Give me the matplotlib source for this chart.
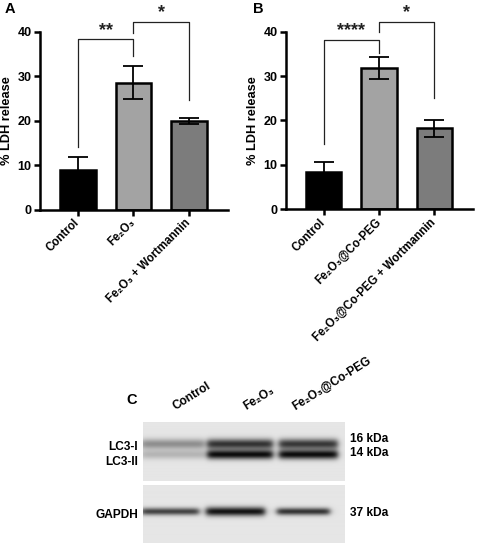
import numpy as np
import matplotlib
matplotlib.use('Agg')
import matplotlib.pyplot as plt

plt.rcParams['font.family'] = ['Liberation Sans', 'DejaVu Sans']
plt.rcParams['font.weight'] = 'bold'

# ---------------- data ----------------
cats_a = ['Control', 'Fe\u2082O\u2083', 'Fe\u2082O\u2083 + Wortmannin']
vals_a = [9.0, 28.6, 20.0]
err_a = [3.0, 3.6, 0.6]

cats_b = ['Control', 'Fe\u2082O\u2083@Co-PEG', 'Fe\u2082O\u2083@Co-PEG + Wortmannin']
vals_b = [8.3, 31.8, 18.2]
err_b = [2.4, 2.4, 2.0]

# brackets: (i, j, left end, top, right end, label)
sig_a = [(0, 1, 14.2, 38.3, 34.5, '**'), (1, 2, 39.8, 42.2, 24.7, '*')]
sig_b = [(0, 1, 14.6, 38.2, 35.3, '****'), (1, 2, 40.0, 42.2, 25.1, '*')]

yticks = [0, 10, 20, 30, 40]
ylabel = '% LDH release'

# western blot (panel C)
lanes_c = ['Control', 'Fe\u2082O\u2083', 'Fe\u2082O\u2083@Co-PEG']
lc3i = [0.40, 0.82, 0.80]
lc3ii = [0.22, 1.00, 1.00]
gapdh = [0.75, 0.97, 0.82]
markers_top = ['16 kDa', '14 kDa']
markers_bot = ['37 kDa']
rows_top = ['LC3-I', 'LC3-II']
rows_bot = ['GAPDH']

bar_colors = ['#000000', '#a3a3a3', '#7c7c7c']

W, H = 479, 550
fig = plt.figure(figsize=(W / 100, H / 100), dpi=100)


def px_axes(l, t, r, b):
    return fig.add_axes([l / W, 1 - b / H, (r - l) / W, (b - t) / H])


def bar_panel(ax, cats, vals, errs, sigs):
    x = np.arange(len(cats))
    ax.bar(x, vals, width=0.64, color=bar_colors, edgecolor='black', linewidth=1.8, zorder=2)
    ax.errorbar(x, vals, yerr=errs, fmt='none', ecolor='black', elinewidth=1.3,
                capsize=7, capthick=1.3, zorder=3)
    ax.set_xlim(-0.68, 2.7)
    ax.set_ylim(0, 40)
    ax.set_yticks(yticks)
    ax.set_xticks(x)
    ax.set_xticklabels(cats, rotation=45, ha='right', va='center', rotation_mode='anchor',
                       fontsize=8.3, fontweight='bold')
    for lab in ax.get_yticklabels():
        lab.set_fontsize(9)
        lab.set_fontweight('bold')
    ax.tick_params(axis='both', direction='out', length=4, width=1.8, pad=2)
    ax.tick_params(axis='x', pad=4)
    for s in ['top', 'right']:
        ax.spines[s].set_visible(False)
    for s in ['left', 'bottom']:
        ax.spines[s].set_linewidth(1.8)
    ax.set_ylabel(ylabel, fontsize=9.2, fontweight='bold', labelpad=3)
    for i, j, yl, yt, yr, lab in sigs:
        ax.plot([i, i, j, j], [yl, yt, yt, yr], color='#222222', lw=0.9, clip_on=False, zorder=4)
        ax.text((i + j) / 2, yt + 0.1, lab, ha='center', va='bottom', fontsize=13,
                fontweight='bold', color='#222222', clip_on=False)


axA = px_axes(40, 31.7, 228, 210)
bar_panel(axA, cats_a, vals_a, err_a, sig_a)
axB = px_axes(286, 31.7, 473, 209.3)
bar_panel(axB, cats_b, vals_b, err_b, sig_b)

fig.text(5 / W, 1 - 9 / H, 'A', fontsize=10.5, fontweight='bold', va='center', ha='left')
fig.text(253 / W, 1 - 9 / H, 'B', fontsize=10.5, fontweight='bold', va='center', ha='left')

# ---------------- panel C ----------------
axC = fig.add_axes([0, 0, 1, 1], zorder=-1)
axC.axis('off')

bg = 0.90
dark = 0.05


def lane_profile(xs, x0, x1, soft=3.5):
    return 0.5 * (np.tanh((xs - x0) / soft) - np.tanh((xs - x1) / soft))


def blot(xl, xr, yt, yb, bands):
    xs = np.linspace(xl, xr, int(xr - xl) * 2)
    ys = np.linspace(yt, yb, int(yb - yt) * 2)
    X, Y = np.meshgrid(xs, ys)
    d = np.zeros_like(X)
    for (x0, x1, yc, sig, inten) in bands:
        d += inten * lane_profile(X, x0, x1) * np.exp(-0.5 * ((Y - yc) / sig) ** 2)
    d = np.clip(d, 0, 1)
    img = bg - d * (bg - dark)
    axC.imshow(img, cmap='gray', vmin=0, vmax=1, extent=(xl, xr, yb, yt),
               aspect='auto', interpolation='bilinear', origin='upper')


top_lanes = [(141, 204), (207, 273), (279, 338)]
bot_lanes = [(141, 199), (206, 265), (277, 330)]
bands_top = []
for k, (x0, x1) in enumerate(top_lanes):
    bands_top.append((x0, x1, 444.0, 3.6, lc3i[k]))
    bands_top.append((x0, x1, 454.5, 3.3, lc3ii[k]))
bands_bot = []
for k, (x0, x1) in enumerate(bot_lanes):
    bands_bot.append((x0, x1, 512.0, 2.6 if k != 1 else 3.2, gapdh[k]))

blot(143, 345, 422.3, 480.7, bands_top)
blot(143, 345, 485.7, 543.3, bands_bot)
axC.set_xlim(0, W)
axC.set_ylim(H, 0)

fs_c = 8.6
axC.text(126, 400, 'C', fontsize=10.5, fontweight='bold', ha='left', va='center')
for name, x0 in zip(lanes_c, [177, 248, 297]):
    axC.text(x0, 413, name, rotation=32, rotation_mode='anchor', ha='left', va='bottom',
             fontsize=fs_c, fontweight='bold')
for name, yy in zip(rows_top, [447, 462]):
    axC.text(138, yy, name, ha='right', va='center', fontsize=fs_c, fontweight='bold')
for name, yy in zip(rows_bot, [515]):
    axC.text(138, yy, name, ha='right', va='center', fontsize=fs_c, fontweight='bold')
for name, yy in zip(markers_top, [439, 453]):
    axC.text(350, yy, name, ha='left', va='center', fontsize=fs_c, fontweight='bold')
for name, yy in zip(markers_bot, [513]):
    axC.text(350, yy, name, ha='left', va='center', fontsize=fs_c, fontweight='bold')

fig.savefig('out.png', dpi=100)
